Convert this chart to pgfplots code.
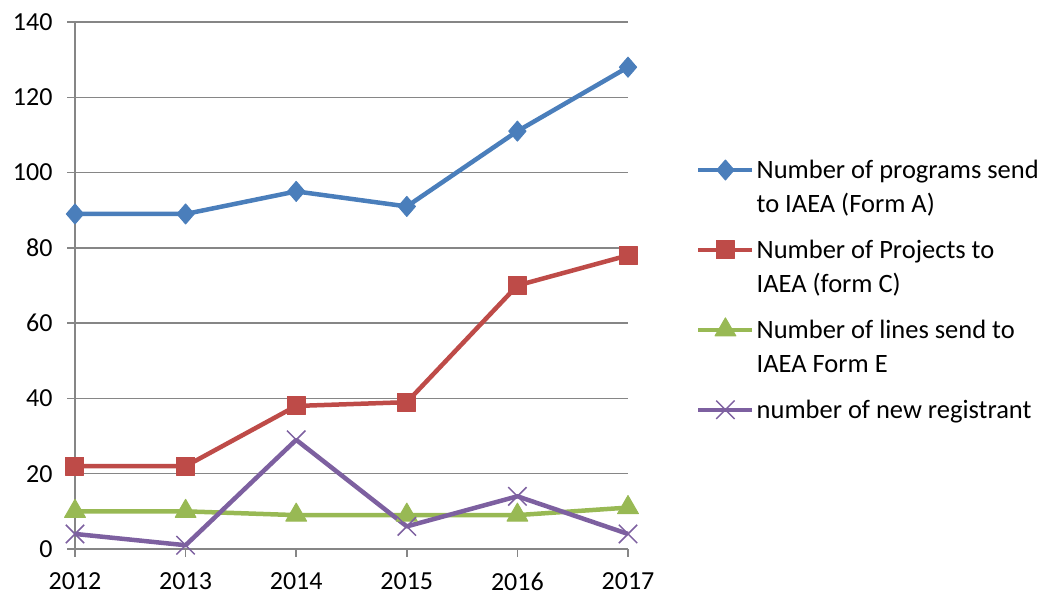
\documentclass[border=0pt]{standalone}
\usepackage{fontspec}
\setmainfont{Carlito}
\usepackage{pgfplots}
\pgfplotsset{compat=1.18}
\definecolor{cblue}{HTML}{4A7EBB}
\definecolor{cred}{HTML}{BE4B48}
\definecolor{cgreen}{HTML}{98B954}
\definecolor{cpurple}{HTML}{7D60A0}
\definecolor{gridgray}{HTML}{868686}
\begin{document}
\begin{tikzpicture}
\path[use as bounding box] (-75pt,-47pt) rectangle (968pt,549pt);
\begin{axis}[
  at={(0pt,0pt)}, anchor=south west,
  scale only axis, width=553pt, height=527pt,
  xmin=2012, xmax=2017, ymin=0, ymax=140,
  xtick={2012,2013,2014,2015,2016,2017},
  ytick={0,20,40,60,80,100,120,140},
  axis lines=left,
  axis line style={-, draw=gridgray, line width=1.5pt},
  ymajorgrids,
  grid style={draw=gridgray, line width=1.5pt},
  tick align=outside, major tick length=8pt,
  tick style={draw=gridgray, line width=1.5pt},
  tick label style={font=\fontsize{26}{30}\selectfont, text=black},
  xticklabel style={yshift=-12pt},
  yticklabel style={xshift=-11pt},
  /pgf/number format/assume math mode=true,
  /pgf/number format/1000 sep={},
  clip=false,
  legend style={at={(1.1175,0.746)}, anchor=north west, draw=none, fill=none,
    font=\fontsize{26.5}{34}\selectfont, row sep=22pt, cells={align=left}},
  legend cell align=left,
  legend image code/.code={\draw[mark repeat=2,mark phase=2,#1] plot coordinates {(0pt,0pt) (27pt,0pt) (54pt,0pt)};},
  every axis plot/.append style={line width=4.5pt, line join=round},
]
\addplot[color=cblue, mark=diamond*, mark size=10pt, mark options={solid, line width=1pt, fill=cblue, xscale=1.15}, legend image post style={yshift=17pt}]
  coordinates {(2012,89) (2013,89) (2014,95) (2015,91) (2016,111) (2017,128)};
\addlegendentry{Number of programs send\\to IAEA (Form A)}
\addplot[color=cred, mark=square*, mark size=9pt, mark options={solid, line width=1pt, fill=cred}, legend image post style={yshift=17pt}]
  coordinates {(2012,22) (2013,22) (2014,38) (2015,39) (2016,70) (2017,78)};
\addlegendentry{Number of Projects to\\IAEA (form C)}
\addplot[color=cgreen, mark=triangle*, mark size=12pt, mark options={solid, line width=1pt, fill=cgreen}, legend image post style={yshift=17pt}]
  coordinates {(2012,10) (2013,10) (2014,9) (2015,9) (2016,9) (2017,11)};
\addlegendentry{Number of lines send to\\IAEA Form E}
\addplot[color=cpurple, mark=x, mark size=13pt, mark options={solid, line width=1.5pt}]
  coordinates {(2012,4) (2013,1) (2014,29) (2015,6) (2016,14) (2017,4)};
\addlegendentry{number of new registrant}
\end{axis}
\end{tikzpicture}
\end{document}
